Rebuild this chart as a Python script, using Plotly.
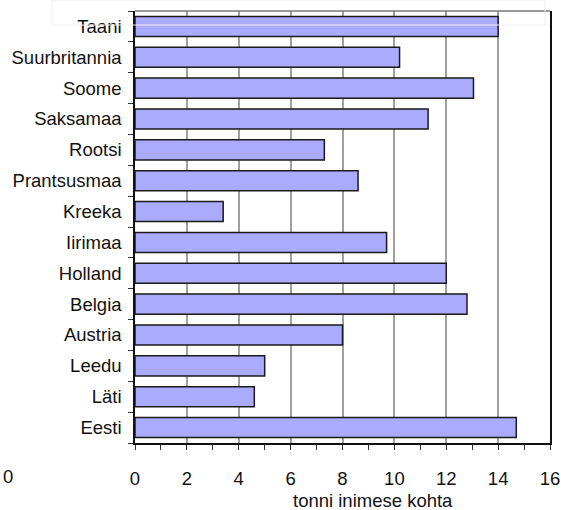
import plotly.graph_objects as go

# Emissions per inhabitant (tonnes), top-to-bottom order
countries = ["Taani", "Suurbritannia", "Soome", "Saksamaa", "Rootsi", "Prantsusmaa",
             "Kreeka", "Iirimaa", "Holland", "Belgia", "Austria", "Leedu", "Läti", "Eesti"]
values = [14.0, 10.2, 13.05, 11.3, 7.3, 8.6, 3.4, 9.7, 12.0, 12.8, 8.0, 5.0, 4.6, 14.7]
x_ticks = [0, 2, 4, 6, 8, 10, 12, 14, 16]
x_title = "tonni inimese kohta"

FONT = "Liberation Sans, Arial, sans-serif"

fig = go.Figure(go.Bar(
    x=values,
    y=countries,
    orientation="h",
    marker=dict(color="#AAAAFF", line=dict(color="#1a1a1a", width=1.5)),
    width=0.65,
))

W, H = 561, 510
L, R, T, B = 135, 11, 11, 67

fig.update_layout(
    width=W, height=H,
    margin=dict(l=L, r=R, t=T, b=B, pad=0, autoexpand=False),
    paper_bgcolor="white",
    plot_bgcolor="white",
    font=dict(family=FONT, size=18, color="#111111"),
    showlegend=False,
)

fig.update_xaxes(
    range=[0, 16],
    tickvals=x_ticks,
    automargin=False,
    ticks="outside", ticklen=5, tickwidth=1, tickcolor="#333333",
    ticklabelstandoff=13,
    minor=dict(dtick=1, tick0=0, ticks="outside", ticklen=5, tickcolor="#333333", showgrid=False),
    showgrid=True, gridcolor="#a0a0a0", gridwidth=1.5,
    showline=True, linecolor="#111111", linewidth=1.5,
    zeroline=False,
    tickfont=dict(size=18.5),
)

fig.update_yaxes(
    categoryorder="array",
    categoryarray=countries[::-1],
    automargin=False,
    tickson="boundaries",
    ticks="outside", ticklen=5, tickwidth=1, tickcolor="#333333",
    ticklabelstandoff=8,
    showgrid=False,
    showline=True, linecolor="#111111", linewidth=1.5,
    mirror=True,
    tickfont=dict(size=18.5),
)

pw = W - L - R
ph = H - T - B


def px(x):
    return (x - L) / pw


def py(y):
    return 1 - (y - T) / ph


# top frame edge in grey
fig.add_shape(type="line", xref="paper", yref="paper", x0=0, x1=1, y0=1, y1=1,
              line=dict(color="#777777", width=1.5))

# faint empty box near the top
fig.add_shape(type="rect", xref="paper", yref="paper",
              x0=px(52), x1=px(545), y0=py(0), y1=py(25),
              line=dict(color="#eeeeee", width=1), layer="above")

fig.add_annotation(text=x_title, xref="paper", yref="paper",
                   x=px(373), y=py(500), xanchor="center", yanchor="middle",
                   showarrow=False, font=dict(size=18.5, family=FONT, color="#111111"))

fig.add_annotation(text="0", xref="paper", yref="paper",
                   x=px(1), y=py(476), xanchor="left", yanchor="middle",
                   showarrow=False, font=dict(size=18.5, family=FONT, color="#111111"))

fig.write_html("out.html")
